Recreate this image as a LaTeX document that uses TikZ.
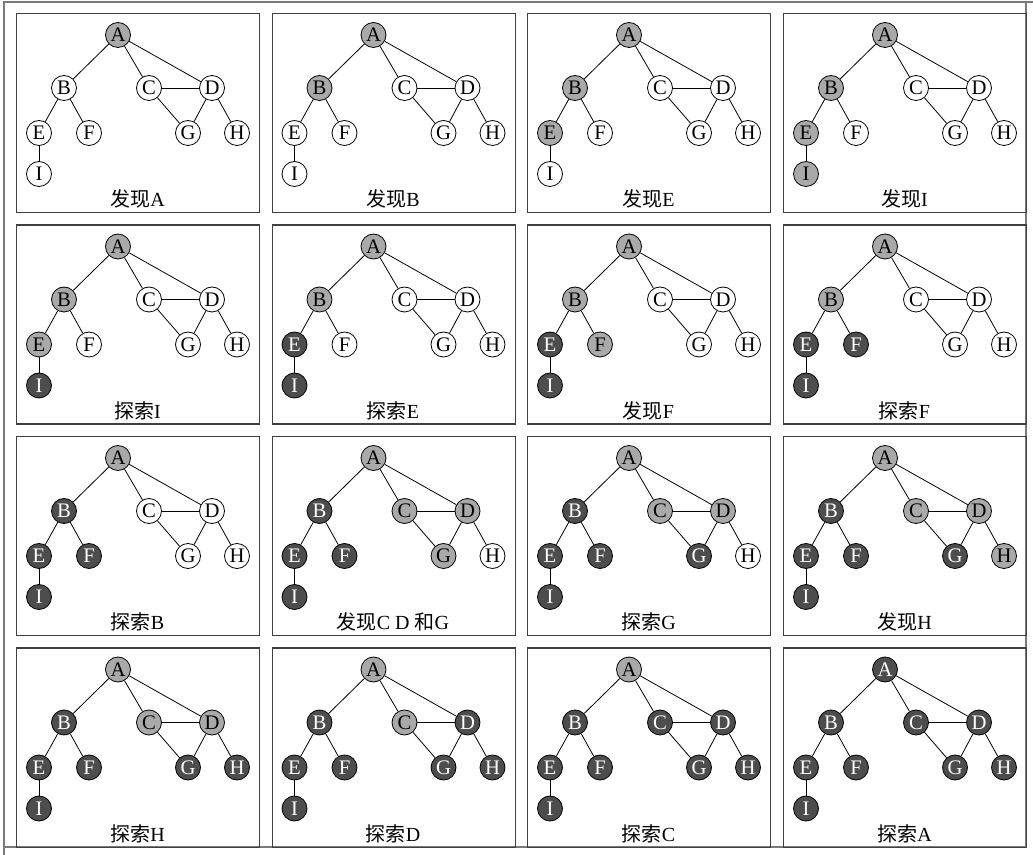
\documentclass[tikz,border=0pt]{standalone}
\usepackage{fontspec}
\setmainfont{Liberation Serif}
\newfontfamily\cjk{Noto Sans CJK SC}
\definecolor{vgray}{HTML}{A9A9A9}
\definecolor{vdark}{HTML}{4D4D4D}
\definecolor{boxc}{HTML}{404040}
\definecolor{framec}{HTML}{7A7A7A}
\tikzset{
  vbase/.style={circle,draw=black,line width=0.6pt,minimum size=18.75pt,inner sep=0pt,
    font=\fontsize{15.5}{15.5}\selectfont},
  vw/.style={vbase,fill=white,text=black},
  vg/.style={vbase,fill=vgray,text=black},
  vk/.style={vbase,fill=vdark,text=white},
  edge/.style={line width=0.6pt,black},
  panelbox/.style={draw=boxc,line width=0.9pt,rectangle,inner sep=0pt,
    minimum width=182.25pt,minimum height=149.25pt,anchor=north west},
  lbl/.style={inner sep=0pt,font=\fontsize{15}{15}\selectfont},
  frame/.style={draw=framec,line width=1.1pt}
}
\newcommand\setstates[9]{\def\sA{#1}\def\sB{#2}\def\sC{#3}\def\sD{#4}\def\sE{#5}\def\sF{#6}\def\sG{#7}\def\sH{#8}\def\sI{#9}}
\newcommand\panel[5]{%
  \setstates#4
  \begin{scope}[shift={(#2,#3)}]
    \node[panelbox] (#1box) at (0,0) {};
    \node[v\sA] (#1A) at (102,22) {A};
    \node[v\sB] (#1B) at (48,75) {B};
    \node[v\sC] (#1C) at (133,75) {C};
    \node[v\sD] (#1D) at (196,75) {D};
    \node[v\sE] (#1E) at (23,120) {E};
    \node[v\sF] (#1F) at (73,120) {F};
    \node[v\sG] (#1G) at (172,120) {G};
    \node[v\sH] (#1H) at (221,120) {H};
    \node[v\sI] (#1I) at (23,161) {I};
    \draw[edge] (#1A) -- (#1B);
    \draw[edge] (#1A) -- (#1C);
    \draw[edge] (#1A) -- (#1D);
    \draw[edge] (#1B) -- (#1E);
    \draw[edge] (#1B) -- (#1F);
    \draw[edge] (#1C) -- (#1D);
    \draw[edge] (#1C) -- (#1G);
    \draw[edge] (#1D) -- (#1G);
    \draw[edge] (#1D) -- (#1H);
    \draw[edge] (#1E) -- (#1I);
    \node[lbl] (#1lbl) at (121.5,186) {#5};
  \end{scope}}
\begin{document}
\begin{tikzpicture}[x=0.75pt,y=-0.75pt]
\useasboundingbox (0,0) rectangle (1033,855);
\fill[white] (0,0) rectangle (1033,855);
\draw[frame] (4,855) -- (4,2) -- (1033,2);
\draw[frame] (4,847) -- (1026,847) -- (1026,2);
% row 1
\panel{p1}{16}{13}{gwwwwwwww}{{\cjk 发现}A}
\panel{p2}{271.5}{13}{ggwwwwwww}{{\cjk 发现}B}
\panel{p3}{527}{13}{ggwwgwwww}{{\cjk 发现}E}
\panel{p4}{783}{13}{ggwwgwwwg}{{\cjk 发现}I}
% row 2
\panel{p5}{16}{224.5}{ggwwgwwwk}{{\cjk 探索}I}
\panel{p6}{271.5}{224.5}{ggwwkwwwk}{{\cjk 探索}E}
\panel{p7}{527}{224.5}{ggwwkgwwk}{{\cjk 发现}F}
\panel{p8}{783}{224.5}{ggwwkkwwk}{{\cjk 探索}F}
% row 3
\panel{p9}{16}{436}{gkwwkkwwk}{{\cjk 探索}B}
\panel{p10}{271.5}{436}{gkggkkgwk}{{\cjk 发现}C D {\cjk 和}G}
\panel{p11}{527}{436}{gkggkkkwk}{{\cjk 探索}G}
\panel{p12}{783}{436}{gkggkkkgk}{{\cjk 发现}H}
% row 4
\panel{p13}{16}{647.5}{gkggkkkkk}{{\cjk 探索}H}
\panel{p14}{271.5}{647.5}{gkgkkkkkk}{{\cjk 探索}D}
\panel{p15}{527}{647.5}{gkkkkkkkk}{{\cjk 探索}C}
\panel{p16}{783}{647.5}{kkkkkkkkk}{{\cjk 探索}A}
\end{tikzpicture}
\end{document}
